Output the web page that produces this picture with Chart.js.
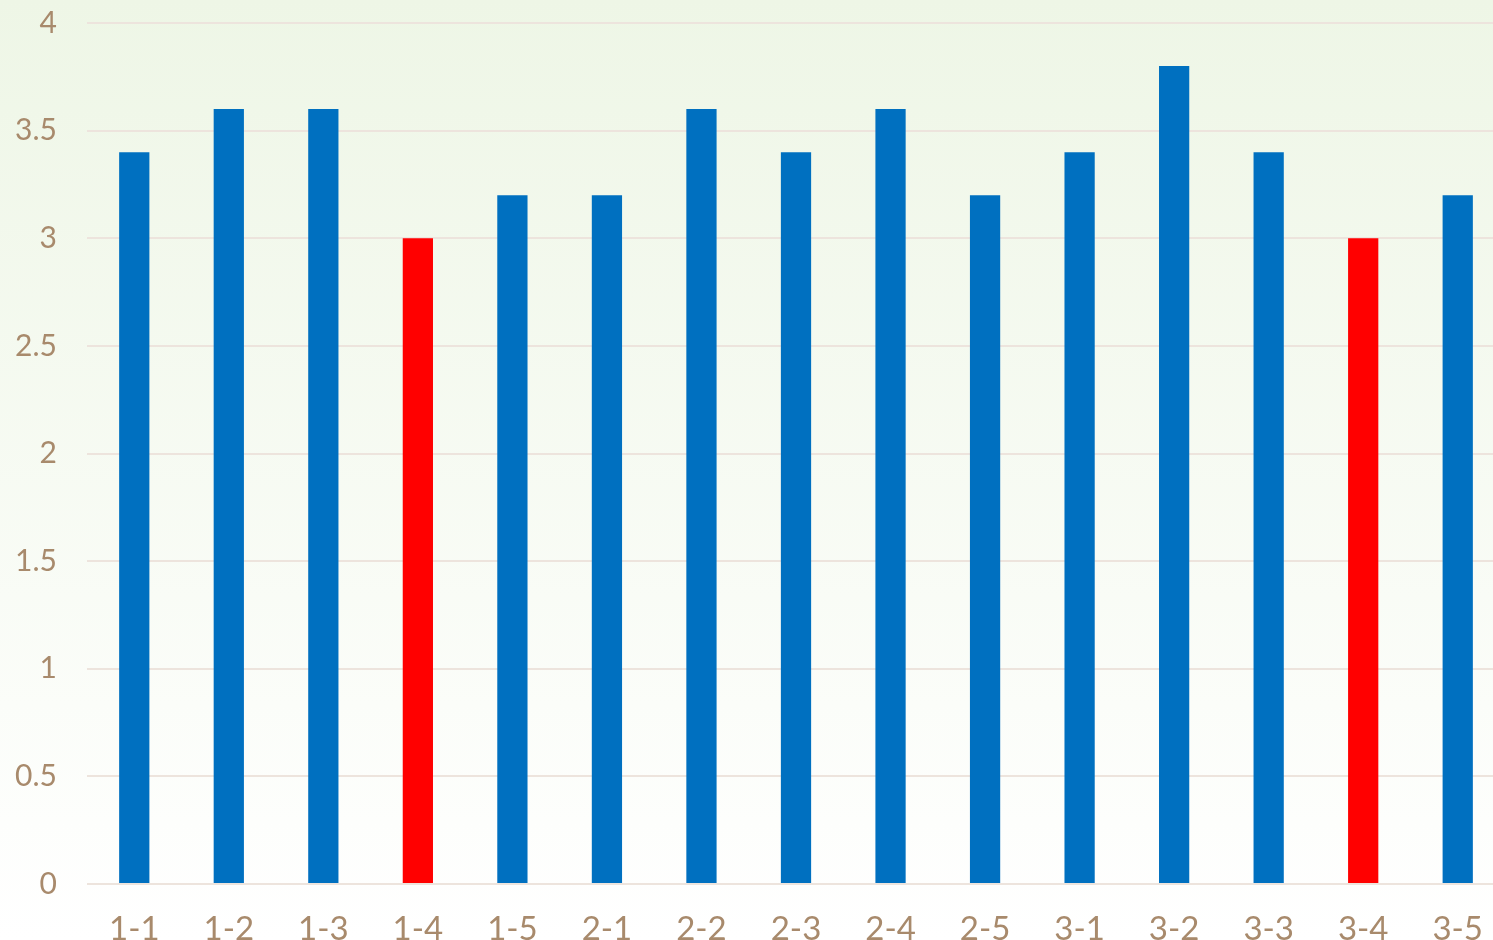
<!DOCTYPE html>
<html>
<head>
<meta charset="utf-8">
<script src="https://cdn.jsdelivr.net/npm/chart.js@4"></script>
<style>
  html, body { margin: 0; padding: 0; overflow: hidden; background: #fff; }
  canvas { display: block; }
</style>
</head>
<body>
<canvas id="barChart" width="1505" height="980"></canvas>
<script>
const categories = ['1-1', '1-2', '1-3', '1-4', '1-5', '2-1', '2-2', '2-3', '2-4', '2-5', '3-1', '3-2', '3-3', '3-4', '3-5'];
const scores = [3.4, 3.6, 3.6, 3.0, 3.2, 3.2, 3.6, 3.4, 3.6, 3.2, 3.4, 3.8, 3.4, 3.0, 3.2];
const lowMarks = ['1-4', '3-4'];

const textColor = '#a88a6c';
const gridColor = '#ede4dd';

// light green wash at the top fading to white
const bgPlugin = {
  id: 'bgGradient',
  beforeDraw(chart) {
    const c = chart.ctx;
    const g = c.createLinearGradient(0, 0, 0, 940);
    g.addColorStop(0, '#eef6e6');
    g.addColorStop(0.75, '#fbfdf9');
    g.addColorStop(1, '#ffffff');
    c.save();
    c.fillStyle = g;
    c.fillRect(0, 0, chart.width, chart.height);
    c.restore();
  }
};

const ctx = document.getElementById('barChart').getContext('2d');
new Chart(ctx, {
  type: 'bar',
  data: {
    labels: categories,
    datasets: [{
      data: scores,
      backgroundColor: categories.map(c => lowMarks.includes(c) ? '#ff0000' : '#0070c0'),
      barPercentage: 0.32,
      categoryPercentage: 1
    }]
  },
  options: {
    responsive: false,
    animation: false,
    layout: { padding: { top: 23, right: 0, left: 0, bottom: 0 } },
    plugins: {
      legend: { display: false },
      tooltip: { enabled: false }
    },
    scales: {
      y: {
        min: 0,
        max: 4,
        ticks: {
          stepSize: 0.5,
          color: textColor,
          padding: 30,
          font: { family: 'Lato', size: 30 },
          callback: v => String(v)
        },
        grid: { color: gridColor, lineWidth: 2, drawTicks: false },
        border: { display: false },
        afterFit(scale) { scale.width = 87; scale.paddingTop = 0; scale.paddingBottom = 0; }
      },
      x: {
        ticks: {
          color: textColor,
          padding: 26,
          font: { family: 'Lato', size: 33 }
        },
        grid: { display: false, drawTicks: false },
        border: { display: false },
        afterFit(scale) { scale.height = 96; scale.paddingLeft = 0; scale.paddingRight = 0; }
      }
    }
  },
  plugins: [bgPlugin]
});
</script>
</body>
</html>
